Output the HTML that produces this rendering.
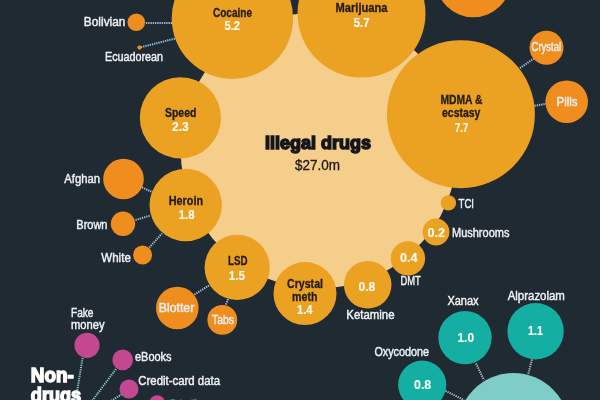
<!DOCTYPE html>
<html><head><meta charset="utf-8"><title>Dark web sales</title>
<style>
html,body{margin:0;padding:0;background:#1f2a33;}
body{width:600px;height:400px;overflow:hidden;}
svg{display:block;}
text{font-family:"Liberation Sans","DejaVu Sans",sans-serif;}
.w{fill:#eef1f3;font-size:12.5px;stroke:#eef1f3;stroke-width:.45;}
.d{fill:#231a13;font-size:12.3px;font-weight:bold;stroke:#231a13;stroke-width:.3;}
.n{fill:#fffdf6;font-size:13px;font-weight:bold;stroke:#fffdf6;stroke-width:.12;}
.dot{stroke-width:2;stroke-dasharray:1.25 1;fill:none;}
</style></head><body>
<svg width="600" height="400" viewBox="0 0 600 400">
<rect width="600" height="400" fill="#1f2a33"/>
<!-- connectors -->
<g class="dot" stroke="#a3c6dc">
<line x1="146" y1="22.9" x2="172" y2="22.9"/>
<line x1="141" y1="47.2" x2="175" y2="38.6"/>
<line x1="520" y1="68" x2="534" y2="58.5"/>
<line x1="534.5" y1="105.8" x2="546" y2="103.8"/>
<line x1="142" y1="187.4" x2="152" y2="192"/>
<line x1="135.5" y1="220" x2="150.5" y2="215.5"/>
<line x1="149.3" y1="247.5" x2="162" y2="233.5"/>
<line x1="194.5" y1="294.5" x2="209" y2="285.5"/>
<line x1="226" y1="304.5" x2="228.5" y2="298"/>
</g>
<g class="dot" stroke="#8cc3cc">
<line x1="82.6" y1="358" x2="75.5" y2="401"/>
<line x1="116" y1="369" x2="92" y2="401"/>
<line x1="121.8" y1="394.2" x2="111" y2="401"/>
</g>
<g class="dot" stroke="#b0c0c8">
<line x1="476" y1="363.5" x2="484" y2="380"/>
<line x1="532" y1="359.5" x2="528" y2="375"/>
<line x1="445.5" y1="390.9" x2="464" y2="400"/>
</g>
<!-- big pale circle -->
<circle cx="318.9" cy="150.3" r="138.2" fill="#f6ce8c"/>
<!-- amber circles -->
<g fill="#eba122">
<circle cx="232.4" cy="18.2" r="60.7"/>
<circle cx="361.5" cy="13.5" r="64"/>
<circle cx="460.9" cy="114.2" r="74"/>
<circle cx="180.4" cy="117.8" r="40.6"/>
<circle cx="185.7" cy="205" r="36.2"/>
<circle cx="237.2" cy="267.4" r="32.6"/>
<circle cx="305" cy="293.6" r="31.5"/>
<circle cx="367.7" cy="284.8" r="23.8"/>
<circle cx="407.9" cy="258.4" r="17.2"/>
<circle cx="436" cy="232" r="13.4"/>
<circle cx="448.4" cy="202.9" r="7.7"/>
</g>
<!-- orange circles -->
<g fill="#f08d1f">
<circle cx="473.3" cy="-20.3" r="37.6"/>
<circle cx="546.5" cy="47.7" r="17"/>
<circle cx="566.7" cy="101.8" r="21.3"/>
<circle cx="136.3" cy="22.2" r="8.8"/>
<circle cx="139.5" cy="47.6" r="2.1"/>
<circle cx="123.5" cy="179" r="20.3"/>
<circle cx="123" cy="223.8" r="12.2"/>
<circle cx="142.6" cy="255" r="9.5"/>
<circle cx="177.3" cy="308" r="21.3"/>
<circle cx="222.3" cy="319.9" r="14.9"/>
</g>
<!-- magenta -->
<g fill="#c2488f">
<circle cx="87" cy="345.3" r="12.6"/>
<circle cx="122.7" cy="359.9" r="10.3"/>
<circle cx="129" cy="389" r="9.5"/>
<circle cx="157.2" cy="403.2" r="7.9"/>
</g>
<!-- teal -->
<circle cx="513.4" cy="429" r="56" fill="#7fcdc7"/>
<g fill="#14aea3">
<circle cx="465" cy="337.6" r="26.7"/>
<circle cx="535.6" cy="331.2" r="28.2"/>
<circle cx="422.2" cy="384.7" r="24.1"/>
</g>
<!-- labels: white regular -->
<g class="w">
<text x="83.8" y="26" textLength="41.7" lengthAdjust="spacingAndGlyphs">Bolivian</text>
<text x="105" y="60.5" textLength="58" lengthAdjust="spacingAndGlyphs">Ecuadorean</text>
<text x="64.3" y="182.5" textLength="35.7" lengthAdjust="spacingAndGlyphs">Afghan</text>
<text x="76.3" y="228.7" textLength="31.2" lengthAdjust="spacingAndGlyphs">Brown</text>
<text x="101.3" y="261.8" textLength="29.5" lengthAdjust="spacingAndGlyphs">White</text>
<text x="158.8" y="311.8" textLength="35.5" lengthAdjust="spacingAndGlyphs">Blotter</text>
<text x="212" y="323.8" textLength="21.8" lengthAdjust="spacingAndGlyphs">Tabs</text>
<text x="71" y="316.6" textLength="22.5" lengthAdjust="spacingAndGlyphs">Fake</text>
<text x="71" y="328.5" textLength="33.6" lengthAdjust="spacingAndGlyphs">money</text>
<text x="135" y="360.5" textLength="36.6" lengthAdjust="spacingAndGlyphs">eBooks</text>
<text x="138.3" y="384.5" textLength="81.7" lengthAdjust="spacingAndGlyphs">Credit-card data</text>
<text x="170" y="409" textLength="33.5" lengthAdjust="spacingAndGlyphs">Fake IDs</text>
<text x="531.6" y="51" textLength="29.4" lengthAdjust="spacingAndGlyphs">Crystal</text>
<text x="556.5" y="105.8" textLength="21" lengthAdjust="spacingAndGlyphs">Pills</text>
<text x="458.5" y="207.8" textLength="15.5" lengthAdjust="spacingAndGlyphs">TCI</text>
<text x="452" y="237" textLength="57.4" lengthAdjust="spacingAndGlyphs">Mushrooms</text>
<text x="400.5" y="285" textLength="20.3" lengthAdjust="spacingAndGlyphs">DMT</text>
<text x="346.3" y="318.6" textLength="48.2" lengthAdjust="spacingAndGlyphs">Ketamine</text>
<text x="447.4" y="305" textLength="31.2" lengthAdjust="spacingAndGlyphs">Xanax</text>
<text x="507.7" y="299.6" textLength="57.2" lengthAdjust="spacingAndGlyphs">Alprazolam</text>
<text x="374.4" y="356.4" textLength="54.6" lengthAdjust="spacingAndGlyphs">Oxycodone</text>
</g>
<!-- labels: dark bold -->
<g class="d">
<text x="213" y="17" textLength="39" lengthAdjust="spacingAndGlyphs">Cocaine</text>
<text x="335.5" y="11.6" textLength="52" lengthAdjust="spacingAndGlyphs">Marijuana</text>
<text x="165" y="117" textLength="31.3" lengthAdjust="spacingAndGlyphs">Speed</text>
<text x="168.8" y="204.5" textLength="34.2" lengthAdjust="spacingAndGlyphs">Heroin</text>
<text x="228" y="265" textLength="19.5" lengthAdjust="spacingAndGlyphs">LSD</text>
<text x="287" y="288.4" textLength="36" lengthAdjust="spacingAndGlyphs">Crystal</text>
<text x="292" y="300.5" textLength="25.5" lengthAdjust="spacingAndGlyphs">meth</text>
<text x="440.5" y="103.5" textLength="42" lengthAdjust="spacingAndGlyphs">MDMA &amp;</text>
<text x="442" y="117" textLength="38.4" lengthAdjust="spacingAndGlyphs">ecstasy</text>
</g>
<!-- numbers: white bold -->
<g class="n">
<text x="224.5" y="29.5" textLength="15.5" lengthAdjust="spacingAndGlyphs">5.2</text>
<text x="353.8" y="26.6" textLength="15.7" lengthAdjust="spacingAndGlyphs">5.7</text>
<text x="172" y="130.5" textLength="16.7" lengthAdjust="spacingAndGlyphs">2.3</text>
<text x="178.8" y="218.8" textLength="15.7" lengthAdjust="spacingAndGlyphs">1.8</text>
<text x="228.8" y="279.7" textLength="16.2" lengthAdjust="spacingAndGlyphs">1.5</text>
<text x="297" y="313.6" textLength="15.5" lengthAdjust="spacingAndGlyphs">1.4</text>
<text x="455" y="132" textLength="13.4" lengthAdjust="spacingAndGlyphs">7.7</text>
<text x="427.5" y="236.8" textLength="17.5" lengthAdjust="spacingAndGlyphs">0.2</text>
<text x="400" y="262" textLength="17.5" lengthAdjust="spacingAndGlyphs">0.4</text>
<text x="358.6" y="290.7" textLength="16.7" lengthAdjust="spacingAndGlyphs">0.8</text>
<text x="457.5" y="341.8" textLength="16.5" lengthAdjust="spacingAndGlyphs">1.0</text>
<text x="528" y="334.5" textLength="15" lengthAdjust="spacingAndGlyphs">1.1</text>
<text x="414" y="388.8" textLength="17.2" lengthAdjust="spacingAndGlyphs">0.8</text>
</g>
<!-- titles -->
<text x="265" y="149.2" textLength="106" lengthAdjust="spacingAndGlyphs" style="font-size:17.8px;font-weight:bold;fill:#15161a;stroke:#15161a;stroke-width:1.5;">Illegal drugs</text>
<text x="295" y="169.5" textLength="45" lengthAdjust="spacingAndGlyphs" style="font-size:14px;fill:#1d1a17;stroke:#1d1a17;stroke-width:.3;">$27.0m</text>
<text x="30.8" y="381.8" textLength="43" lengthAdjust="spacingAndGlyphs" style="font-size:19.4px;font-weight:bold;fill:#fff;stroke:#fff;stroke-width:1.4;">Non-</text>
<text x="30.8" y="401.6" textLength="50.4" lengthAdjust="spacingAndGlyphs" style="font-size:19.4px;font-weight:bold;fill:#fff;stroke:#fff;stroke-width:1.4;">drugs</text>
</svg>
</body></html>
